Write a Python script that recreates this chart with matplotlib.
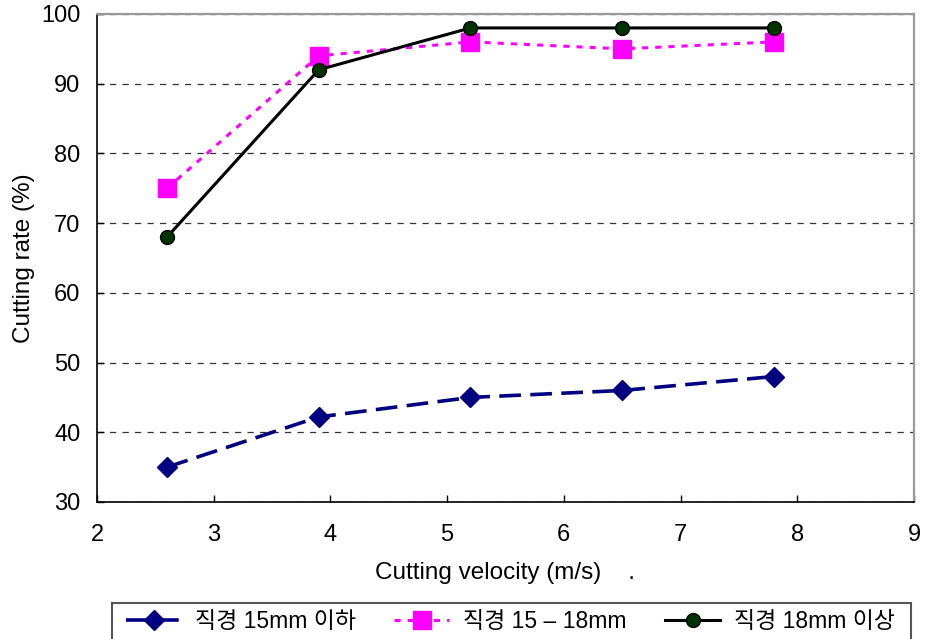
import matplotlib.pyplot as plt
from matplotlib.patches import Rectangle

plt.rcParams["font.family"] = ["Liberation Sans", "Noto Sans CJK KR", "DejaVu Sans"]

velocity = [2.6, 3.9, 5.2, 6.5, 7.8]
rate_under_15 = [35, 42.2, 45, 46, 48]
rate_15_to_18 = [75, 94, 96, 95, 96]
rate_over_18 = [68, 92, 98, 98, 98]
labels = ["직경 15mm 이하", "직경 15 – 18mm", "직경 18mm 이상"]

W, H = 928, 639
fig = plt.figure(figsize=(W / 100, H / 100), dpi=100)
ax = fig.add_axes([97 / W, 1 - 502 / H, (914 - 97) / W, (502 - 14) / H])

ax.plot(velocity, rate_under_15, color="#000080", lw=2.6, ls=(0, (6, 2.6)),
        marker="D", ms=10, mfc="#000080", mec="#000080", label=labels[0])
ax.plot(velocity, rate_15_to_18, color="#ff00ff", lw=2.2, ls=(0, (2, 2.3)),
        marker="s", ms=13, mfc="#ff00ff", mec="#ff00ff", label=labels[1])
ax.plot(velocity, rate_over_18, color="black", lw=2.2, ls="-",
        marker="o", ms=10, mfc="#003300", mec="black", mew=1, label=labels[2])

ax.set_xlim(2, 9)
ax.set_ylim(30, 100)
ax.set_xticks(range(2, 10))
ax.set_yticks(range(30, 101, 10))
ax.tick_params(direction="in", length=5, width=1, labelsize=17, colors="black")
ax.tick_params(axis="x", pad=16)
ax.tick_params(axis="y", pad=12)
ax.grid(axis="y", ls=(0, (5, 5)), color="#333333", lw=0.9)
ax.set_axisbelow(True)

for side in ("left", "bottom"):
    ax.spines[side].set_color("black")
    ax.spines[side].set_linewidth(1.2)
for side in ("top", "right"):
    ax.spines[side].set_color("#999999")
    ax.spines[side].set_linewidth(1.6)

ax.set_xlabel("Cutting velocity (m/s)    .", fontsize=17.5, labelpad=11)
ax.set_ylabel("Cutting rate (%)", fontsize=17.5, labelpad=4)

# legend box runs off the bottom edge of the figure
fig.patches.append(Rectangle((112 / W, -0.02), (911 - 112) / W, 0.02 + 36 / H,
                             transform=fig.transFigure, fill=False,
                             edgecolor="#555555", lw=1.5))
leg = fig.legend(loc="upper left",
                 bbox_to_anchor=(126 / W, 0.0, (895 - 126) / W, 29 / H),
                 mode="expand", ncol=3, fontsize=16.5, frameon=False,
                 handlelength=2.4, handletextpad=0.6, borderpad=0.0,
                 columnspacing=1.0, borderaxespad=0)

fig.savefig("out.png", dpi=100)
